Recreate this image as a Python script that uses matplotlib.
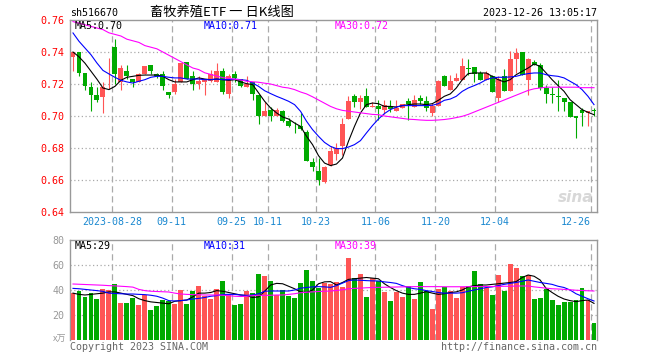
import numpy as np
import matplotlib.pyplot as plt

# 日K数据 2023-08-17 ~ 2023-12-26，共 88 个交易日
opens = [0.737, 0.740, 0.727, 0.718, 0.713, 0.712, 0.721, 0.743, 0.721, 0.728,
         0.723, 0.721, 0.726, 0.732, 0.726, 0.726, 0.715, 0.715, 0.721, 0.734,
         0.725, 0.720, 0.721, 0.722, 0.721, 0.728, 0.714, 0.726, 0.723, 0.718,
         0.721, 0.713, 0.700, 0.7035, 0.700, 0.703, 0.6967, 0.694, 0.6935, 0.690,
         0.6713, 0.6658, 0.6588, 0.6692, 0.6763, 0.681, 0.6981, 0.7127, 0.7085, 0.7127,
         0.7054, 0.7065, 0.704, 0.7065, 0.7033, 0.7048, 0.7096, 0.7054, 0.7113, 0.7096,
         0.7019, 0.7065, 0.7248, 0.7165, 0.7217, 0.7227, 0.7294, 0.7306, 0.7269, 0.7227,
         0.7252, 0.7113, 0.7248, 0.7156, 0.7358, 0.7398, 0.7227, 0.7335, 0.7321, 0.7175,
         0.7133, 0.7127, 0.7113, 0.7085, 0.6998, 0.7035, 0.7019, 0.7033]
highs = [0.740, 0.740, 0.727, 0.721, 0.718, 0.721, 0.736, 0.748, 0.732, 0.732,
         0.723, 0.727, 0.731, 0.732, 0.727, 0.728, 0.715, 0.723, 0.733, 0.734,
         0.728, 0.725, 0.723, 0.729, 0.733, 0.730, 0.726, 0.728, 0.723, 0.725,
         0.721, 0.713, 0.7085, 0.7056, 0.705, 0.704, 0.699, 0.6965, 0.702, 0.6915,
         0.6738, 0.6738, 0.6688, 0.6815, 0.6831, 0.6988, 0.7127, 0.7135, 0.7133, 0.7175,
         0.709, 0.710, 0.710, 0.710, 0.710, 0.7077, 0.7113, 0.7133, 0.7133, 0.7123,
         0.7081, 0.7227, 0.7258, 0.7258, 0.7269, 0.7363, 0.7356, 0.7306, 0.7279, 0.7279,
         0.7258, 0.7248, 0.7294, 0.7404, 0.7425, 0.7398, 0.7363, 0.7348, 0.7331, 0.7196,
         0.7181, 0.7227, 0.7113, 0.7085, 0.6998, 0.705, 0.703, 0.705]
lows = [0.728, 0.725, 0.716, 0.703, 0.709, 0.702, 0.717, 0.720, 0.716, 0.723,
        0.718, 0.721, 0.726, 0.726, 0.724, 0.716, 0.711, 0.714, 0.721, 0.723,
        0.716, 0.717, 0.713, 0.721, 0.721, 0.714, 0.711, 0.721, 0.718, 0.718,
        0.710, 0.695, 0.700, 0.697, 0.700, 0.696, 0.693, 0.6894, 0.691, 0.6717,
        0.6654, 0.6571, 0.6583, 0.6685, 0.6727, 0.6758, 0.698, 0.7056, 0.7046, 0.7054,
        0.7054, 0.6973, 0.7015, 0.7025, 0.7033, 0.7048, 0.6977, 0.7054, 0.7077, 0.7029,
        0.6998, 0.7065, 0.7185, 0.7165, 0.7217, 0.7227, 0.7258, 0.721, 0.7227, 0.7227,
        0.7148, 0.7088, 0.7156, 0.7156, 0.7269, 0.7258, 0.7133, 0.7321, 0.7165, 0.7081,
        0.7081, 0.7029, 0.7029, 0.6994, 0.686, 0.6935, 0.6935, 0.6998]
closes = [0.740, 0.727, 0.719, 0.713, 0.710, 0.718, 0.7215, 0.726, 0.730, 0.725,
          0.721, 0.726, 0.731, 0.728, 0.725, 0.719, 0.713, 0.720, 0.733, 0.723,
          0.720, 0.722, 0.723, 0.726, 0.728, 0.715, 0.725, 0.724, 0.719, 0.720,
          0.714, 0.700, 0.703, 0.700, 0.7035, 0.6967, 0.6935, 0.6935, 0.6919, 0.6717,
          0.6681, 0.6598, 0.6681, 0.6779, 0.680, 0.6952, 0.7096, 0.7085, 0.7113, 0.7054,
          0.7065, 0.7044, 0.707, 0.7044, 0.705, 0.7077, 0.7077, 0.7098, 0.7096, 0.705,
          0.7065, 0.7217, 0.7185, 0.7217, 0.7238, 0.731, 0.7292, 0.7265, 0.7227, 0.7269,
          0.7148, 0.7231, 0.7156, 0.7358, 0.7394, 0.7258, 0.7358, 0.7321, 0.7175, 0.7138,
          0.7131, 0.7117, 0.7085, 0.6994, 0.6985, 0.7019, 0.703, 0.703]

ma5 = [0.740, 0.737, 0.733, 0.728, 0.723, 0.7175, 0.7165, 0.7185, 0.7223, 0.7242,
       0.7248, 0.7254, 0.7256, 0.7256, 0.7256, 0.7248, 0.7227, 0.7213, 0.7213, 0.7213,
       0.7227, 0.7238, 0.7231, 0.7227, 0.7231, 0.7227, 0.7223, 0.7227, 0.7213, 0.7202,
       0.7196, 0.7144, 0.7092, 0.705, 0.7019, 0.6994, 0.6981, 0.6956, 0.6935, 0.6873,
       0.6821, 0.6752, 0.6706, 0.669, 0.670, 0.6737, 0.6842, 0.6935, 0.7019, 0.7071,
       0.7081, 0.7077, 0.706, 0.706, 0.7056, 0.7065, 0.7071, 0.7075, 0.7075, 0.7071,
       0.7077, 0.7098, 0.7123, 0.7138, 0.7175, 0.7227, 0.7265, 0.7269, 0.7269, 0.7269,
       0.7248, 0.7227, 0.7213, 0.7227, 0.7258, 0.7279, 0.730, 0.7325, 0.731, 0.7269,
       0.7227, 0.719, 0.7154, 0.7102, 0.7071, 0.704, 0.7023, 0.7008]
ma10 = [0.7519, 0.7467, 0.7425, 0.7383, 0.7331, 0.7285, 0.7263, 0.7242, 0.7223, 0.7213,
        0.7206, 0.7217, 0.7227, 0.7242, 0.7248, 0.7248, 0.7242, 0.7238, 0.7238, 0.7231,
        0.7231, 0.7231, 0.7227, 0.7227, 0.7231, 0.7227, 0.7227, 0.7231, 0.7227, 0.7223,
        0.7206, 0.7185, 0.7158, 0.714, 0.7123, 0.7108, 0.7092, 0.7071, 0.7029, 0.6967,
        0.6915, 0.6873, 0.6835, 0.681, 0.6796, 0.6796, 0.6806, 0.6821, 0.6846, 0.6894,
        0.694, 0.6981, 0.7015, 0.704, 0.7056, 0.7065, 0.7065, 0.7065, 0.7065, 0.7065,
        0.7067, 0.7077, 0.7098, 0.7106, 0.7123, 0.7154, 0.7175, 0.719, 0.7206, 0.7227,
        0.7238, 0.7242, 0.7242, 0.7244, 0.7248, 0.7258, 0.7265, 0.7269, 0.7269, 0.7258,
        0.7252, 0.7248, 0.7238, 0.7217, 0.7196, 0.7165, 0.7123, 0.7071]
ma30 = [0.759, 0.758, 0.757, 0.756, 0.755, 0.754, 0.752, 0.751, 0.750, 0.748,
        0.747, 0.746, 0.744, 0.743, 0.742, 0.740, 0.738, 0.736, 0.734, 0.732,
        0.730, 0.729, 0.727, 0.726, 0.725, 0.724, 0.7235, 0.723, 0.7225, 0.7217,
        0.7214, 0.7211, 0.7205, 0.720, 0.719, 0.718, 0.7175, 0.7165, 0.715, 0.7138,
        0.712, 0.710, 0.708, 0.706, 0.7045, 0.7035, 0.703, 0.7025, 0.702, 0.7015,
        0.701, 0.7008, 0.700, 0.6995, 0.699, 0.6985, 0.698, 0.6978, 0.6975, 0.6973,
        0.6973, 0.6975, 0.6978, 0.6983, 0.699, 0.6998, 0.701, 0.7025, 0.704, 0.7055,
        0.707, 0.7085, 0.710, 0.7115, 0.713, 0.7145, 0.716, 0.717, 0.7175, 0.718,
        0.718, 0.718, 0.718, 0.718, 0.718, 0.7177, 0.7177, 0.7177]

# 成交量（万）
vol = [37.3, 39.2, 34.4, 37.3, 32.8, 40.8, 40.0, 44.8, 29.6, 29.6,
       33.6, 28.0, 36.0, 24.0, 27.2, 32.0, 31.2, 28.8, 40.0, 28.8,
       39.2, 43.2, 35.2, 32.8, 40.8, 47.2, 36.0, 28.0, 28.8, 39.2,
       37.6, 52.8, 51.2, 47.2, 36.0, 40.0, 35.2, 33.6, 45.6, 56.0,
       47.2, 41.6, 45.6, 44.8, 46.7, 42.7, 65.9, 49.3, 53.0, 34.4,
       49.9, 47.5, 38.7, 31.2, 38.7, 34.4, 43.2, 32.8, 46.4, 39.2,
       24.8, 40.8, 42.1, 39.2, 33.6, 42.4, 43.2, 55.2, 45.0, 41.3,
       36.0, 52.0, 39.2, 60.8, 57.6, 51.2, 52.0, 32.8, 33.6, 40.8,
       32.0, 28.0, 30.4, 30.4, 32.0, 41.6, 32.0, 13.6]
vol_ma5 = [37.5, 36.5, 36.0, 36.5, 37.0, 37.5, 38.5, 38.5, 37.5, 36.5,
           35.5, 33.0, 31.5, 30.5, 30.0, 29.5, 29.0, 31.0, 31.5, 32.0,
           34.5, 37.5, 37.5, 38.0, 39.5, 39.0, 38.0, 37.0, 36.0, 35.5,
           34.0, 34.5, 39.0, 44.0, 45.3, 45.0, 43.0, 41.0, 38.5, 38.0,
           40.0, 45.0, 46.5, 46.7, 44.0, 46.0, 48.5, 49.0, 49.5, 50.0,
           49.5, 49.0, 45.0, 42.0, 39.5, 37.5, 36.5, 36.5, 37.5, 38.7,
           37.5, 36.5, 37.0, 38.0, 38.5, 40.0, 42.5, 43.5, 44.0, 44.0,
           44.5, 45.0, 45.5, 46.0, 46.7, 50.0, 52.0, 51.0, 48.0, 41.3,
           38.0, 35.0, 32.8, 31.5, 30.7, 31.5, 32.0, 29.3]
vol_ma10 = [41.3, 41.0, 40.5, 40.0, 39.5, 38.9, 37.5, 37.2, 37.0, 36.8,
            36.8, 36.5, 36.3, 35.8, 35.0, 33.5, 31.5, 31.2, 31.5, 32.0,
            32.8, 33.3, 34.0, 35.0, 35.5, 36.5, 36.5, 36.5, 36.0, 35.7,
            36.0, 37.0, 39.0, 39.2, 39.2, 39.2, 39.2, 40.0, 41.5, 42.0,
            42.5, 42.7, 42.5, 42.1, 43.5, 45.5, 47.5, 48.0, 47.8, 47.5,
            47.3, 47.2, 46.5, 46.0, 45.3, 43.5, 42.0, 41.0, 40.5, 39.5,
            38.8, 38.0, 37.5, 37.5, 37.5, 37.8, 39.0, 40.0, 41.0, 42.0,
            42.5, 43.5, 44.5, 45.3, 46.0, 47.0, 48.0, 47.0, 46.0, 45.3,
            44.5, 43.0, 42.0, 40.0, 37.0, 35.0, 33.0, 31.2]
vol_ma30 = [44.8, 44.6, 44.4, 44.2, 44.0, 43.8, 43.5, 43.3, 43.0, 42.7,
            42.3, 40.5, 39.5, 39.0, 38.8, 38.6, 38.4, 37.5, 36.8, 36.5,
            36.3, 36.2, 36.0, 36.0, 36.0, 35.8, 35.5, 35.0, 34.8, 35.0,
            35.5, 35.8, 35.7, 35.8, 36.0, 36.0, 36.5, 37.0, 37.8, 38.2,
            38.5, 38.8, 39.0, 39.2, 39.6, 40.2, 41.0, 41.3, 41.5, 41.8,
            42.0, 42.1, 42.2, 42.3, 42.4, 42.5, 42.6, 42.7, 42.7, 42.7,
            42.7, 42.7, 42.6, 42.6, 42.6, 42.6, 42.7, 42.7, 42.8, 42.8,
            42.8, 42.8, 43.0, 43.0, 43.2, 43.2, 43.2, 42.5, 42.0, 41.5,
            41.0, 40.8, 40.5, 40.2, 39.8, 39.6, 39.4, 39.2]

tick_idx = [7, 17, 27, 33, 41, 51, 61, 71, 87]
tick_txt = ['2023-08-28', '09-11', '09-25', '10-11', '10-23', '11-06', '11-20', '12-04', '12-26']

RED, GREEN = '#ff5555', '#00aa00'
GRID = '#aaaaaa'
MONO = 'DejaVu Sans Mono'
FS = 7.2
W, H = 660, 360

o = np.array(opens); c = np.array(closes)
x = np.arange(len(c))
up = c >= o
cols = np.where(up, RED, GREEN)

fig = plt.figure(figsize=(6.6, 3.6), dpi=100)
ax = fig.add_axes([70 / W, 1 - 212 / H, 527 / W, 192 / H])
axv = fig.add_axes([70 / W, 1 - 340 / H, 527 / W, 100 / H])

# K线
ax.vlines(x, lows, highs, colors=cols, lw=0.8, zorder=3)
body = np.maximum(np.abs(c - o), 0.0005)
ax.bar(x, body, bottom=np.minimum(o, c), width=0.82, color=cols, lw=0, zorder=4)
ax.plot(x, ma5, color='black', lw=0.8, zorder=5)
ax.plot(x, ma10, color='blue', lw=0.8, zorder=5)
ax.plot(x, ma30, color='#ff00ff', lw=0.8, zorder=5)
ax.set_ylim(0.64, 0.76)

# 成交量
axv.bar(x, vol, width=0.82, color=cols, lw=0, zorder=3)
axv.plot(x, vol_ma5, color='black', lw=0.8, zorder=5)
axv.plot(x, vol_ma10, color='blue', lw=0.8, zorder=5)
axv.plot(x, vol_ma30, color='#ff00ff', lw=0.8, zorder=5)
axv.set_ylim(0, 80)

for a in (ax, axv):
    a.set_xlim(-0.5, len(c) - 0.5)
    a.set_xticks([])
    for t in tick_idx:
        a.axvline(t - 0.5, color=GRID, ls=(0, (5, 3)), lw=0.9, zorder=1)
    for s in a.spines.values():
        s.set_color('#999999')
        s.set_linewidth(1)
    a.tick_params(axis='y', length=0, pad=4)
axv.spines['bottom'].set_visible(False)

for yv in [0.66, 0.68, 0.70, 0.72, 0.74]:
    ax.axhline(yv, color=GRID, ls=(0, (1, 2)), lw=0.9, zorder=1)
for yv in [20, 40, 60]:
    axv.axhline(yv, color=GRID, ls=(0, (1, 2)), lw=0.9, zorder=1)

ax.set_yticks([0.64, 0.66, 0.68, 0.70, 0.72, 0.74, 0.76])
ax.set_yticklabels(['%.2f' % v for v in ax.get_yticks()], color='red', family=MONO, fontsize=FS)
axv.set_yticks([20, 40, 60, 80])
axv.set_yticklabels(['20', '40', '60', '80'], color='#999999', family=MONO, fontsize=FS)
fig.text(66 / W, 1 - 339 / H, 'x万', color='#999999', fontsize=6.5, ha='right', va='center',
         family=['Noto Sans CJK SC', 'DejaVu Sans'])

# 日期标签
for t, s in zip(tick_idx, tick_txt):
    ha = 'right' if t == tick_idx[-1] else 'center'
    ax.text(t - 0.5, -0.052, s, transform=ax.get_xaxis_transform(), ha=ha, va='center',
            color='#1a88d0', family=MONO, fontsize=FS)

# 顶部文字
fig.text(70 / W, 1 - 13 / H, 'sh516670', family=MONO, fontsize=FS, va='center')
fig.text(150 / W, 1 - 12 / H, '畜牧养殖ETF 一 日K线图', family=['Noto Sans CJK SC', 'DejaVu Sans'],
         fontsize=9.5, va='center')
fig.text(597 / W, 1 - 13 / H, '2023-12-26 13:05:17', family=MONO, fontsize=FS, va='center', ha='right')

fig.text(75 / W, 1 - 26 / H, 'MA5:0.70', color='black', family=MONO, fontsize=FS, va='center')
fig.text(204 / W, 1 - 26 / H, 'MA10:0.71', color='blue', family=MONO, fontsize=FS, va='center')
fig.text(335 / W, 1 - 26 / H, 'MA30:0.72', color='#ff00ff', family=MONO, fontsize=FS, va='center')
fig.text(75 / W, 1 - 246 / H, 'MA5:29', color='black', family=MONO, fontsize=FS, va='center')
fig.text(204 / W, 1 - 246 / H, 'MA10:31', color='blue', family=MONO, fontsize=FS, va='center')
fig.text(335 / W, 1 - 246 / H, 'MA30:39', color='#ff00ff', family=MONO, fontsize=FS, va='center')

fig.text(593 / W, 1 - 197 / H, 'sina', color='#d8d8d8', fontsize=11, style='italic',
         weight='bold', ha='right', va='center')
fig.text(70 / W, 1 - 347 / H, 'Copyright 2023 SINA.COM', color='#666666', family=MONO,
         fontsize=FS, va='center')
fig.text(597 / W, 1 - 347 / H, 'http://finance.sina.com.cn', color='#666666', family=MONO,
         fontsize=FS, va='center', ha='right')

fig.savefig('out.png', dpi=100, facecolor='white')
